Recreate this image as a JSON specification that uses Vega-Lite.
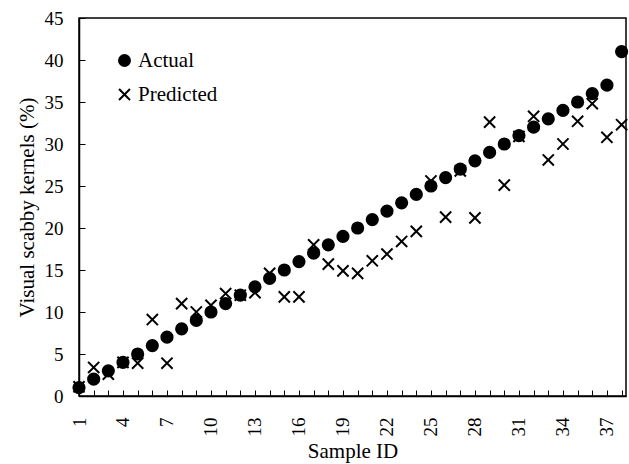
{
  "$schema": "https://vega.github.io/schema/vega-lite/v6.json",
  "width": 547,
  "height": 378,
  "autosize": {"type": "none"},
  "padding": {"left": 79, "top": 18, "right": 3, "bottom": 68},
  "background": "white",
  "config": {
    "font": "Liberation Serif",
    "view": {"stroke": "black", "strokeWidth": 1.5},
    "axis": {"grid": false, "domainColor": "black", "tickColor": "black", "labelColor": "black", "titleColor": "black", "labelFont": "Liberation Serif", "titleFont": "Liberation Serif", "labelFontSize": 19, "titleFontSize": 21, "titleFontWeight": "normal"},
    "legend": {"labelFont": "Liberation Serif"}
  },
  "data": {"values": [
    {"id": 1, "series": "Actual", "v": 1}, {"id": 2, "series": "Actual", "v": 2}, {"id": 3, "series": "Actual", "v": 3}, {"id": 4, "series": "Actual", "v": 4}, {"id": 5, "series": "Actual", "v": 5}, {"id": 6, "series": "Actual", "v": 6}, {"id": 7, "series": "Actual", "v": 7}, {"id": 8, "series": "Actual", "v": 8}, {"id": 9, "series": "Actual", "v": 9}, {"id": 10, "series": "Actual", "v": 10}, {"id": 11, "series": "Actual", "v": 11}, {"id": 12, "series": "Actual", "v": 12}, {"id": 13, "series": "Actual", "v": 13}, {"id": 14, "series": "Actual", "v": 14}, {"id": 15, "series": "Actual", "v": 15}, {"id": 16, "series": "Actual", "v": 16}, {"id": 17, "series": "Actual", "v": 17}, {"id": 18, "series": "Actual", "v": 18}, {"id": 19, "series": "Actual", "v": 19}, {"id": 20, "series": "Actual", "v": 20}, {"id": 21, "series": "Actual", "v": 21}, {"id": 22, "series": "Actual", "v": 22}, {"id": 23, "series": "Actual", "v": 23}, {"id": 24, "series": "Actual", "v": 24}, {"id": 25, "series": "Actual", "v": 25}, {"id": 26, "series": "Actual", "v": 26}, {"id": 27, "series": "Actual", "v": 27}, {"id": 28, "series": "Actual", "v": 28}, {"id": 29, "series": "Actual", "v": 29}, {"id": 30, "series": "Actual", "v": 30}, {"id": 31, "series": "Actual", "v": 31}, {"id": 32, "series": "Actual", "v": 32}, {"id": 33, "series": "Actual", "v": 33}, {"id": 34, "series": "Actual", "v": 34}, {"id": 35, "series": "Actual", "v": 35}, {"id": 36, "series": "Actual", "v": 36}, {"id": 37, "series": "Actual", "v": 37}, {"id": 38, "series": "Actual", "v": 41},
    {"id": 1, "series": "Predicted", "v": 1.1}, {"id": 2, "series": "Predicted", "v": 3.4}, {"id": 3, "series": "Predicted", "v": 2.6}, {"id": 4, "series": "Predicted", "v": 4}, {"id": 5, "series": "Predicted", "v": 3.9}, {"id": 6, "series": "Predicted", "v": 9.1}, {"id": 7, "series": "Predicted", "v": 3.9}, {"id": 8, "series": "Predicted", "v": 11}, {"id": 9, "series": "Predicted", "v": 10}, {"id": 10, "series": "Predicted", "v": 10.8}, {"id": 11, "series": "Predicted", "v": 12.2}, {"id": 12, "series": "Predicted", "v": 12}, {"id": 13, "series": "Predicted", "v": 12.3}, {"id": 14, "series": "Predicted", "v": 14.6}, {"id": 15, "series": "Predicted", "v": 11.8}, {"id": 16, "series": "Predicted", "v": 11.8}, {"id": 17, "series": "Predicted", "v": 18}, {"id": 18, "series": "Predicted", "v": 15.7}, {"id": 19, "series": "Predicted", "v": 14.9}, {"id": 20, "series": "Predicted", "v": 14.6}, {"id": 21, "series": "Predicted", "v": 16.1}, {"id": 22, "series": "Predicted", "v": 16.9}, {"id": 23, "series": "Predicted", "v": 18.4}, {"id": 24, "series": "Predicted", "v": 19.6}, {"id": 25, "series": "Predicted", "v": 25.6}, {"id": 26, "series": "Predicted", "v": 21.3}, {"id": 27, "series": "Predicted", "v": 26.8}, {"id": 28, "series": "Predicted", "v": 21.2}, {"id": 29, "series": "Predicted", "v": 32.6}, {"id": 30, "series": "Predicted", "v": 25.1}, {"id": 31, "series": "Predicted", "v": 30.9}, {"id": 32, "series": "Predicted", "v": 33.3}, {"id": 33, "series": "Predicted", "v": 28.1}, {"id": 34, "series": "Predicted", "v": 30}, {"id": 35, "series": "Predicted", "v": 32.7}, {"id": 36, "series": "Predicted", "v": 34.8}, {"id": 37, "series": "Predicted", "v": 30.8}, {"id": 38, "series": "Predicted", "v": 32.3}
  ]},
  "mark": {"type": "point", "stroke": "black", "strokeWidth": 2, "opacity": 1, "clip": false},
  "encoding": {
    "x": {"field": "id", "type": "quantitative", "title": "Sample ID",
      "scale": {"domain": [1, 38.3], "nice": false, "zero": false},
      "axis": {"values": [1,2,3,4,5,6,7,8,9,10,11,12,13,14,15,16,17,18,19,20,21,22,23,24,25,26,27,28,29,30,31,32,33,34,35,36,37,38],
        "labelExpr": "(datum.value - 1) % 3 == 0 ? datum.label : ''",
        "labelAngle": -90, "labelAlign": "right", "labelBaseline": "middle", "tickSize": -6, "labelPadding": 27, "titlePadding": 4, "labelOverlap": false, "labelFlush": false, "domainWidth": 1.5}},
    "y": {"field": "v", "type": "quantitative", "title": "Visual scabby kernels (%)",
      "scale": {"domain": [0, 45], "nice": false},
      "axis": {"values": [0,5,10,15,20,25,30,35,40,45], "tickSize": -6, "labelPadding": 22, "titlePadding": 7, "domainWidth": 1.5}},
    "shape": {"field": "series", "type": "nominal", "scale": {"domain": ["Actual", "Predicted"], "range": ["circle", "M-1,-1L1,1M-1,1L1,-1"]},
      "legend": {"title": null, "orient": "none", "legendX": 35, "legendY": 32, "labelFontSize": 21, "labelFont": "Liberation Serif", "labelColor": "black", "symbolSize": 120, "symbolStrokeWidth": 2, "rowPadding": 12, "labelOffset": 3}},
    "fill": {"field": "series", "type": "nominal", "scale": {"domain": ["Actual", "Predicted"], "range": ["black", "transparent"]}, "legend": null},
    "size": {"value": 125}
  }
}
